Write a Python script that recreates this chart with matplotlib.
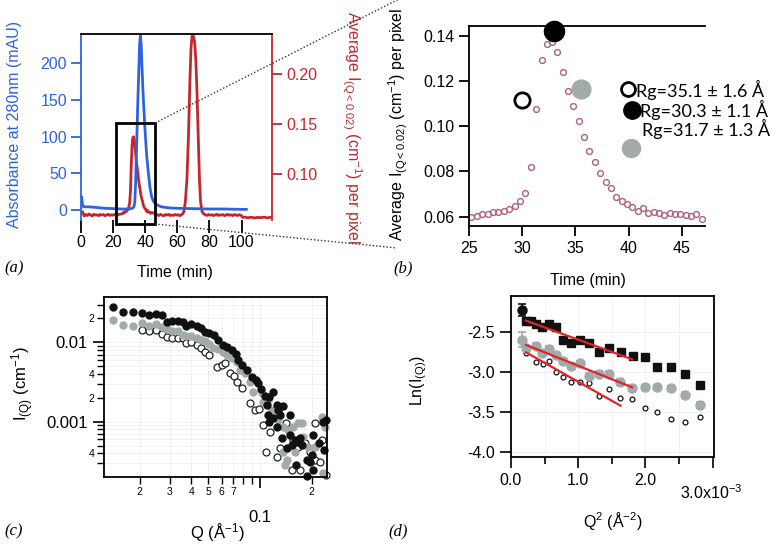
import numpy as np
import matplotlib
matplotlib.use('Agg')
import matplotlib.pyplot as plt
from matplotlib.lines import Line2D
from matplotlib.patches import Rectangle
from matplotlib.ticker import FixedLocator, FixedFormatter, NullFormatter

plt.rcParams['font.family'] = ['Liberation Sans', 'DejaVu Sans']
plt.rcParams['mathtext.fontset'] = 'custom'
plt.rcParams['mathtext.rm'] = 'Liberation Sans'
plt.rcParams['mathtext.it'] = 'Liberation Sans:italic'
plt.rcParams['mathtext.bf'] = 'Liberation Sans:bold'

# ---------------- data ----------------
# (a) chromatograms
blue_t = [0, 0.3, 1, 2, 5, 10, 15, 20, 25, 30, 32, 33, 33.5, 34, 34.5, 35, 35.5, 36, 36.5, 37,
          37.5, 38, 38.5, 39, 39.5, 40, 40.5, 41, 42, 43, 44, 45, 46, 47, 50, 55, 60, 70, 80, 90, 100, 103]
blue_v = [3, 18, 6, 4, 4, 3, 2, 1.5, 1, 1, 2, 4, 10, 35, 75, 115, 155, 190, 225, 238,
          225, 195, 168, 145, 125, 105, 88, 72, 50, 30, 18, 12, 9, 7, 4, 2.5, 2, 1.5, 1, 1, 0.5, 0.5]

red_early_t = [1, 2, 3, 4, 5, 6, 7, 8, 9, 10, 11, 12, 13, 14, 15, 16, 17, 18, 19, 20, 21, 22, 23, 24]
red_early_v = [.062, .058, .0595, .0585, .060, .0590, .0580, .0598, .0588, .0592, .0583, .0596,
               .0589, .0594, .0582, .0591, .0597, .0586, .0593, .0588, .0595, .0584, .0592, .0598]
red_late_t = [47.5, 48.5, 49.5, 50.5, 51.5, 52.5, 53.5, 54.5, 55.5, 56.5, 57.5, 58.5, 59.5, 60.5,
              61.5, 62.5, 63.3, 64, 65, 66, 67, 67.8, 68.5, 69.2, 70, 70.8, 71.5, 72.2, 73, 73.8,
              74.5, 75.5, 76.5, 77.5, 78.5, 79.5, 80.5, 81.5, 82.5, 83.5, 84.5, 85.5, 86.5, 87.5,
              88.5, 89.5, 90.5, 91.5, 92.5, 93.5, 94.5, 95.5, 96.5, 97.5, 98.5, 99.5, 100.3, 101,
              102, 104, 106, 108, 110, 112, 114, 116, 118, 119]
red_late_v = [.0592, .0585, .0596, .0588, .0582, .0594, .0589, .0597, .0584, .0591, .0586, .0595,
              .0588, .0593, .0583, .0592, .0600, .062, .072, .095, .140, .190, .225, .238, .238, .232,
              .215, .185, .140, .095, .072, .062, .0600, .0592, .0586, .0595, .0588, .0593, .0584,
              .0590, .0597, .0585, .0592, .0588, .0594, .0583, .0591, .0596, .0587, .0592, .0584,
              .0594, .0589, .0585, .0593, .0588, .0575, .0565, .0570, .0562, .0568, .0560, .0566,
              .0563, .0569, .0561, .0567, .0564]

# (b) zoom of SANS intensity
b_t = [25.13, 25.69, 26.22, 26.73, 27.26, 27.73, 28.26, 28.77, 29.27, 29.77,
       30.27, 30.81, 31.28, 31.81, 32.28, 32.82, 33.29, 33.79, 34.32, 34.79,
       35.33, 35.80, 36.30, 36.83, 37.30, 37.84, 38.34, 38.84, 39.34, 39.85,
       40.35, 40.85, 41.35, 41.85, 42.36, 42.86, 43.36, 43.86, 44.37, 44.87,
       45.37, 45.87, 46.37, 46.88]
b_v = [0.0600, 0.0603, 0.0613, 0.0610, 0.0623, 0.0622, 0.0626, 0.0635, 0.0646, 0.0668,
       0.0706, 0.0821, 0.1074, 0.1291, 0.1365, 0.1372, 0.1326, 0.1241, 0.1157, 0.1088,
       0.1024, 0.0951, 0.0892, 0.0844, 0.0794, 0.0755, 0.0729, 0.0688, 0.0668, 0.0656,
       0.0644, 0.0626, 0.0640, 0.0618, 0.0620, 0.0615, 0.0606, 0.0615, 0.0613, 0.0612,
       0.0607, 0.0604, 0.0610, 0.0592]
rg_t = [30.0, 33.0, 35.55]
rg_v = [0.1115, 0.1421, 0.1163]
rg_labels = ['Rg=35.1 ± 1.6 Å', 'Rg=30.3 ± 1.1 Å', 'Rg=31.7 ± 1.3 Å']

# (c) scattering curves
c_black_q = [0.0139, 0.0160, 0.0182, 0.0205, 0.0227, 0.0248, 0.0268, 0.0290, 0.0310, 0.0332,
             0.0355, 0.0374, 0.0400, 0.0428, 0.0454, 0.0479, 0.0507, 0.0540, 0.0572, 0.0611,
             0.0645, 0.0684, 0.0722, 0.0748, 0.0782, 0.0837, 0.0895, 0.0948, 0.0978, 0.1010,
             0.1070, 0.1100, 0.1118, 0.1130, 0.1133, 0.1186, 0.1196, 0.1250, 0.1250, 0.1268,
             0.1307, 0.1337, 0.1367, 0.1430, 0.1495, 0.1495, 0.1530, 0.1600, 0.1620, 0.1636,
             0.1710, 0.1750, 0.1870, 0.1870, 0.1955, 0.2000, 0.2040, 0.2040, 0.2215, 0.2337,
             0.2360, 0.2413]
c_black_i = [0.0276, 0.0243, 0.0243, 0.0232, 0.0223, 0.0229, 0.0219, 0.0182, 0.0184, 0.0187,
             0.0180, 0.0160, 0.0169, 0.0160, 0.0150, 0.0136, 0.0132, 0.0124, 0.0107, 0.00925,
             0.0088, 0.0080, 0.00712, 0.00598, 0.00518, 0.00448, 0.00369, 0.00335, 0.00305, 0.00256,
             0.00211, 0.00162, 0.00121, 0.00206, 0.00100, 0.00110, 0.00239, 0.00162, 0.000865, 0.00140,
             0.00121, 0.000629, 0.00158, 0.000462, 0.00121, 0.00068, 0.000509, 0.000589, 0.000285, 0.00056,
             0.000618, 0.000509, 0.00033, 0.000205, 0.000313, 0.00038, 0.000246, 0.00068, 0.000535, 0.00100,
             0.00044, 0.00105]
c_gray_q = [0.0139, 0.0160, 0.0182, 0.0205, 0.0227, 0.0248, 0.0268, 0.0290, 0.0310, 0.0332,
            0.0355, 0.0374, 0.0400, 0.0428, 0.0454, 0.0479, 0.0507, 0.0535, 0.0572, 0.0611,
            0.0645, 0.0684, 0.0732, 0.0765, 0.0818, 0.0874, 0.0907, 0.1023, 0.1045, 0.1118,
            0.1170, 0.1223, 0.1279, 0.1367, 0.1367, 0.1398, 0.1430, 0.1460, 0.1563, 0.1600,
            0.1670, 0.1750, 0.1787, 0.1910, 0.2090, 0.2286, 0.2337, 0.2390]
c_gray_i = [0.0191, 0.0165, 0.0162, 0.0173, 0.0160, 0.0169, 0.0155, 0.0146, 0.0140, 0.0139,
            0.0124, 0.0121, 0.0120, 0.0112, 0.0107, 0.0104, 0.00952, 0.0084, 0.00824, 0.00762,
            0.00692, 0.00629, 0.0056, 0.00448, 0.00407, 0.00319, 0.00239, 0.00228, 0.00179, 0.00188,
            0.00140, 0.00128, 0.00105, 0.000865, 0.000419, 0.000285, 0.00033, 0.000786, 0.000865, 0.000419,
            0.000955, 0.00097, 0.000648, 0.000484, 0.000484, 0.001156, 0.000224, 0.000865]
c_open_q = [0.0205, 0.0227, 0.0248, 0.0268, 0.0290, 0.0310, 0.0332, 0.0355, 0.0374, 0.0400,
            0.0428, 0.0454, 0.0479, 0.0507, 0.0560, 0.0598, 0.0626, 0.0669, 0.0706, 0.0738,
            0.0785, 0.0874, 0.0935, 0.0991, 0.1045, 0.1084, 0.1143, 0.1250, 0.1307, 0.1417,
            0.1530, 0.1563, 0.1670, 0.1710, 0.1828, 0.1955, 0.2090, 0.2090, 0.2236, 0.2286,
            0.2430]
c_open_i = [0.0143, 0.0140, 0.0143, 0.0127, 0.01176, 0.0112, 0.0112, 0.0112, 0.00971, 0.01018,
            0.00925, 0.0084, 0.00762, 0.00692, 0.00493, 0.00518, 0.00544, 0.00407, 0.00376, 0.00319,
            0.00266, 0.0017, 0.0014, 0.00143, 0.000909, 0.000419, 0.000748, 0.000362, 0.000462, 0.000955,
            0.000246, 0.000589, 0.000484, 0.000246, 0.000535, 0.000419, 0.00033, 0.000955, 0.000313, 0.000589,
            0.00021]

# (d) Guinier plots (Q^2 in units of 1e-3 A^-2)
d_black_q2 = [0.158, 0.223, 0.300, 0.371, 0.457, 0.564, 0.663, 0.767, 0.886, 1.025,
              1.163, 1.307, 1.465, 1.634, 1.810, 1.990, 2.173, 2.376, 2.584, 2.807]
d_black_ln = [-2.221, -2.354, -2.36, -2.39, -2.43, -2.39, -2.43, -2.60, -2.63, -2.596,
              -2.63, -2.742, -2.69, -2.742, -2.80, -2.804, -2.938, -2.938, -3.021, -3.158]
d_black_err = [0.07] + [0.03] * 19
d_gray_q2 = [0.158, 0.223, 0.371, 0.457, 0.564, 0.663, 0.767, 0.886, 1.025, 1.163,
             1.307, 1.460, 1.619, 1.802, 1.990, 2.173, 2.376, 2.584, 2.807]
d_gray_ln = [-2.59, -2.69, -2.665, -2.757, -2.71, -2.78, -2.857, -2.92, -2.888, -3.04,
             -3.021, -3.017, -3.123, -3.194, -3.188, -3.188, -3.2, -3.283, -3.408]
d_gray_err = [0.09] + [0.035] * 18
d_open_q2 = [0.223, 0.371, 0.470, 0.564, 0.663, 0.767, 0.886, 1.025, 1.163, 1.307,
             1.460, 1.619, 1.802, 1.990, 2.173, 2.376, 2.584, 2.807]
d_open_ln = [-2.76, -2.867, -2.896, -2.858, -2.992, -3.063, -3.125, -3.125, -3.129, -3.292,
             -3.213, -3.325, -3.338, -3.45, -3.49, -3.588, -3.617, -3.563]
d_open_err = [0.025] * 18
fit_black_q2 = [0.223, 1.802]
fit_black_ln = [-2.354, -2.8375]
fit_gray_q2 = [0.223, 1.802]
fit_gray_ln = [-2.658, -3.1875]
fit_open_q2 = [0.223, 1.629]
fit_open_ln = [-2.75, -3.417]

# ---------------- style ----------------
RED = '#c4262e'
BLUE = '#2d62e0'
PINK = '#b0607f'
GRAY = '#a2aaaa'
FIT = '#e0242c'

W, H = 781, 546
fig = plt.figure(figsize=(W / 100, H / 100), dpi=100)


def rect(x0, y0, x1, y1):
    return [x0 / W, 1 - y1 / H, (x1 - x0) / W, (y1 - y0) / H]


def fx(x):
    return x / W


def fy(y):
    return 1 - y / H


# ---------------- panel (a) ----------------
axa = fig.add_axes(rect(81, 34, 272, 220))
axa2 = axa.twinx()
axa.set_zorder(axa2.get_zorder() + 1)
axa.patch.set_visible(False)

red_t = red_early_t + b_t + red_late_t
red_v = red_early_v + b_v + red_late_v
axa2.plot(red_t, red_v, color=RED, lw=2)
axa.plot(blue_t, blue_v, color=BLUE, lw=2)

axa.set_xlim(0, 119)
axa.set_ylim(-14, 240)
axa2.set_ylim(0.054, 0.240)

for sp in ['bottom', 'right']:
    axa.spines[sp].set_visible(False)
axa.spines['left'].set_color(BLUE)
axa.spines['left'].set_linewidth(1.3)
axa.spines['top'].set_linewidth(1.3)
for sp in ['bottom', 'left', 'top']:
    axa2.spines[sp].set_visible(False)
axa2.spines['right'].set_color(RED)
axa2.spines['right'].set_linewidth(1.3)

axa.set_xticks([0, 20, 40, 60, 80, 100])
axa.set_yticks([0, 50, 100, 150, 200])
axa.tick_params(axis='x', direction='out', length=9, width=1.3, labelsize=11.5, pad=2)
axa.tick_params(axis='y', direction='out', length=7, width=1.3, colors=BLUE, labelsize=11.5, pad=3)
axa2.set_yticks([0.10, 0.15, 0.20])
axa2.set_yticklabels(['0.10', '0.15', '0.20'])
axa2.tick_params(axis='y', direction='out', length=7, width=1.3, colors=RED, labelsize=11.5, pad=3)

axa.add_patch(Rectangle((21.8, -19), 24.2, 137.5, fill=False, ec='black', lw=2, clip_on=False, zorder=5))

fig.text(fx(15), fy(124), 'Absorbance at 280nm (mAU)', rotation=90, ha='center', va='center',
         color=BLUE, fontsize=11.5)
fig.text(fx(352), fy(128), r'Average I$_{\mathrm{(Q<0.02)}}$ (cm$^{\mathrm{-1}}$) per pixel', rotation=-90,
         ha='center', va='center', color=RED, fontsize=11.5)
fig.text(fx(175), fy(273), 'Time (min)', ha='center', va='center', fontsize=11.5)

# dotted connectors
fig.add_artist(Line2D([fx(155), fx(405)], [fy(123), fy(-4)], transform=fig.transFigure,
                      ls=(0, (1, 1.5)), lw=1, color='#333333'))
fig.add_artist(Line2D([fx(155), fx(397)], [fy(224), fy(248)], transform=fig.transFigure,
                      ls=(0, (1, 1.5)), lw=1, color='#333333'))

# ---------------- panel (b) ----------------
axb = fig.add_axes(rect(469.3, 26, 705, 226))
axb.plot(b_t, b_v, 'o', mfc='none', mec=PINK, ms=4.2, mew=1.0)
axb.plot(rg_t[0], rg_v[0], 'o', mfc='white', mec='black', ms=11, mew=2, clip_on=False, zorder=5)
axb.plot(rg_t[1], rg_v[1], 'o', color='black', ms=14.5, clip_on=False, zorder=5)
axb.plot(rg_t[2], rg_v[2], 'o', color=GRAY, ms=13.5, clip_on=False, zorder=5)
axb.set_xlim(25, 47.2)
axb.set_ylim(0.0559, 0.1443)
axb.spines['right'].set_visible(False)
for sp in ['left', 'top', 'bottom']:
    axb.spines[sp].set_linewidth(1.3)
axb.set_xticks([25, 30, 35, 40, 45])
axb.set_yticks([0.06, 0.08, 0.10, 0.12, 0.14])
axb.set_yticklabels(['0.06', '0.08', '0.10', '0.12', '0.14'])
axb.tick_params(axis='both', direction='out', length=7, width=1.3, labelsize=11.5)
fig.text(fx(398), fy(124), r'Average I$_{\mathrm{(Q<0.02)}}$ (cm$^{\mathrm{-1}}$) per pixel', rotation=90,
         ha='center', va='center', fontsize=11.5)
fig.text(fx(588), fy(280), 'Time (min)', ha='center', va='center', fontsize=11.5)

# legend-like annotation
leg_pos = [(627.7, 89.3), (631.7, 110), (630.7, 148)]
leg_txt = [(636, 90), (639.5, 110), (641.5, 129)]
fig.add_artist(Line2D([fx(leg_pos[0][0])], [fy(leg_pos[0][1])], transform=fig.transFigure, marker='o',
                      mfc='white', mec='black', ms=10, mew=2))
fig.add_artist(Line2D([fx(leg_pos[1][0])], [fy(leg_pos[1][1])], transform=fig.transFigure, marker='o',
                      color='black', ms=12.5))
fig.add_artist(Line2D([fx(leg_pos[2][0])], [fy(leg_pos[2][1])], transform=fig.transFigure, marker='o',
                      color=GRAY, ms=13))
for (x, y), s in zip(leg_txt, rg_labels):
    fig.text(fx(x), fy(y), s, ha='left', va='center', fontsize=13, family=['Lato', 'DejaVu Sans'])

# ---------------- panel (c) ----------------
axc = fig.add_axes(rect(104, 297, 327, 477))
axc.set_xscale('log')
axc.set_yscale('log')
axc.plot(c_open_q, c_open_i, 'o', mfc='white', mec='#222222', ms=5, mew=0.9, clip_on=False)
axc.plot(c_gray_q, c_gray_i, 'o', color=GRAY, ms=5, clip_on=False)
axc.plot(c_black_q, c_black_i, 'o', color='#111111', ms=5, clip_on=False)
axc.set_xlim(0.0124, 0.2455)
axc.set_ylim(2.01e-4, 0.0373)
for sp in axc.spines.values():
    sp.set_linewidth(1.3)
axc.xaxis.set_major_locator(FixedLocator([0.1]))
axc.xaxis.set_major_formatter(FixedFormatter(['0.1']))
xminor = [0.02, 0.03, 0.04, 0.05, 0.06, 0.07, 0.08, 0.09, 0.2]
axc.xaxis.set_minor_locator(FixedLocator(xminor))
axc.xaxis.set_minor_formatter(FixedFormatter(['2', '3', '4', '5', '6', '7', '', '', '2']))
axc.yaxis.set_major_locator(FixedLocator([0.001, 0.01]))
axc.yaxis.set_major_formatter(FixedFormatter(['0.001', '0.01']))
yminor = [0.0002, 0.0003, 0.0004, 0.0005, 0.0006, 0.0007, 0.0008, 0.0009,
          0.002, 0.003, 0.004, 0.005, 0.006, 0.007, 0.008, 0.009, 0.02, 0.03]
ylab = ['2', '', '4', '', '', '', '', '', '2', '', '4', '', '', '', '', '', '2', '']
axc.yaxis.set_minor_locator(FixedLocator(yminor))
axc.yaxis.set_minor_formatter(FixedFormatter(ylab))
axc.tick_params(which='major', direction='out', length=8, width=1.2, labelsize=12)
axc.tick_params(axis='x', which='major', pad=16)
axc.tick_params(which='minor', direction='out', length=5, width=1.0, labelsize=7.5, pad=2)
axc.grid(True, which='both', color='#efefef', lw=0.6)
axc.set_axisbelow(True)
fig.text(fx(23), fy(384), r'I$_{\mathrm{(Q)}}$ (cm$^{\mathrm{-1}}$)', rotation=90, ha='center', va='center',
         fontsize=12)
fig.text(fx(217), fy(533), r'Q (Å$^{\mathrm{-1}}$)', ha='center', va='center', fontsize=12)

# ---------------- panel (d) ----------------
axd = fig.add_axes(rect(511, 296, 714, 457.3))
axd.errorbar(d_open_q2, d_open_ln, yerr=d_open_err, fmt='o', mfc='white', mec='#111111', ms=3.5,
             mew=0.9, ecolor='#111111', elinewidth=0.9, capsize=0)
axd.errorbar(d_gray_q2, d_gray_ln, yerr=d_gray_err, fmt='o', color=GRAY, ms=6.5,
             ecolor=GRAY, elinewidth=1.2, capsize=3, capthick=1.2)
axd.errorbar(d_black_q2[:1], d_black_ln[:1], yerr=d_black_err[:1], fmt='o', color='#111111', ms=6.5,
             ecolor='#111111', elinewidth=1.2, capsize=3, capthick=1.2)
axd.errorbar(d_black_q2[1:], d_black_ln[1:], yerr=d_black_err[1:], fmt='s', color='#111111', ms=5.5,
             ecolor='#111111', elinewidth=1.2, capsize=3, capthick=1.2)
axd.plot(fit_black_q2, fit_black_ln, color=FIT, lw=1.6, zorder=6)
axd.plot(fit_gray_q2, fit_gray_ln, color=FIT, lw=1.6, zorder=6)
axd.plot(fit_open_q2, fit_open_ln, color=FIT, lw=1.6, zorder=6)
axd.set_xlim(0, 3.02)
axd.set_ylim(-4.0625, -2.046)
for sp in axd.spines.values():
    sp.set_linewidth(1.3)
axd.set_xticks([0, 1, 2, 3])
axd.set_xticklabels(['0.0', '1.0', '2.0', ''])
axd.set_xticks([0.5, 1.5, 2.5], minor=True)
axd.set_yticks([-4.0, -3.5, -3.0, -2.5])
axd.set_yticklabels(['-4.0', '-3.5', '-3.0', '-2.5'])
axd.tick_params(which='major', direction='out', length=8, width=1.2, labelsize=11.5)
axd.tick_params(which='minor', direction='out', length=5, width=1.2)
axd.grid(True, which='both', color='#efefef', lw=0.6)
axd.set_axisbelow(True)
fig.text(fx(711), fy(493), r'3.0x10$^{\mathrm{-3}}$', ha='center', va='center', fontsize=11.5)
fig.text(fx(419), fy(381), r'Ln(I$_{\mathrm{(Q)}}$)', rotation=90, ha='center', va='center', fontsize=11.5)
fig.text(fx(613), fy(521), r'Q$^{\mathrm{2}}$ (Å$^{\mathrm{-2}}$)', ha='center', va='center', fontsize=11.5)

# panel letters
for (x, y), s in zip([(14, 268), (403, 268), (14, 531), (398, 531)], ['(a)', '(b)', '(c)', '(d)']):
    fig.text(fx(x), fy(y), s, ha='center', va='center', fontsize=12, style='italic',
             family=['Liberation Serif', 'DejaVu Serif'])

fig.savefig('out.png', dpi=100)
